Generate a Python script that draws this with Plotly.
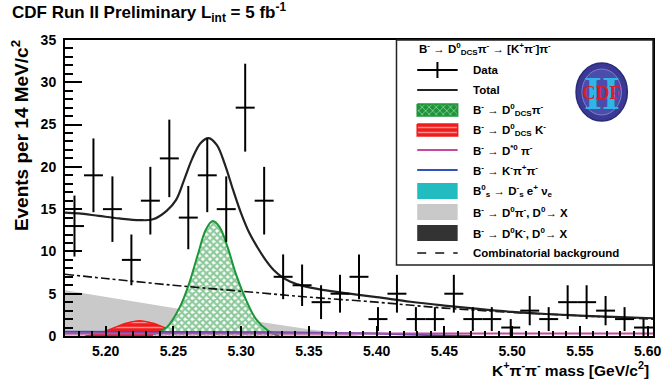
import numpy as np
import plotly.graph_objects as go

# ---------------- data ----------------
bin_centers = [5.177, 5.191, 5.205, 5.219, 5.233, 5.247, 5.261, 5.275, 5.289, 5.303,
               5.317, 5.331, 5.345, 5.359, 5.373, 5.387, 5.401, 5.415, 5.429, 5.443,
               5.457, 5.471, 5.485, 5.499, 5.513, 5.527, 5.541, 5.555, 5.569, 5.583, 5.597]
counts = [13, 19, 15, 9, 16, 21, 14, 19, 15, 27, 16, 7, 6, 4, 5, 7, 2, 5, 2, 2,
          5, 2, 2, 1, 3, 2, 4, 4, 3, 2, 1]
half_bin = 0.007

total_x = [5.170, 5.180, 5.195, 5.210, 5.225, 5.235, 5.245, 5.252, 5.258, 5.264, 5.270,
           5.276, 5.282, 5.288, 5.294, 5.300, 5.306, 5.312, 5.318, 5.324, 5.330, 5.336,
           5.345, 5.360, 5.380, 5.400, 5.425, 5.450, 5.475, 5.500, 5.525, 5.550, 5.575, 5.604]
total_y = [14.6, 14.5, 14.2, 13.9, 13.7, 13.8, 14.8, 16.1, 18.5, 21.0, 22.8,
           23.4, 22.6, 20.3, 17.3, 14.5, 12.2, 10.5, 9.0, 7.8, 7.0, 6.45,
           5.95, 5.45, 5.0, 4.6, 4.05, 3.6, 3.2, 2.85, 2.6, 2.4, 2.25, 2.1]

comb_x = [5.170, 5.200, 5.250, 5.300, 5.350, 5.400, 5.450, 5.500, 5.550, 5.604]
comb_y = [7.3, 6.8, 6.0, 5.3, 4.6, 4.0, 3.3, 2.8, 2.4, 2.0]

gray_x = [5.170, 5.200, 5.250, 5.300, 5.350, 5.390]
gray_y = [5.4, 4.6, 3.3, 2.0, 0.8, 0.0]

red_x = [5.185, 5.195, 5.205, 5.215, 5.225, 5.235, 5.245, 5.255, 5.265]
red_y = [0.0, 0.3, 0.9, 1.5, 1.8, 1.5, 0.9, 0.3, 0.0]

green_x = [5.235, 5.245, 5.255, 5.262, 5.268, 5.274, 5.279, 5.284, 5.290, 5.296,
           5.303, 5.311, 5.320, 5.328]
green_y = [0.2, 1.0, 3.5, 6.4, 9.6, 12.6, 13.6, 12.9, 10.5, 7.4, 4.5, 2.0, 0.6, 0.0]

pink_x = [5.170, 5.300, 5.450, 5.604]
pink_y = [0.3, 0.3, 0.3, 0.3]

blue_x = [5.170, 5.300, 5.400, 5.440, 5.470]
blue_y = [0.5, 0.45, 0.3, 0.1, 0.0]

x_ticks = [5.20, 5.25, 5.30, 5.35, 5.40, 5.45, 5.50, 5.55, 5.60]
x_tick_text = ["5.20", "5.25", "5.30", "5.35", "5.40", "5.45", "5.50", "5.55", "5.60"]
y_ticks = [0, 5, 10, 15, 20, 25, 30, 35]

legend_labels = [
    "Data",
    "Total",
    "B<sup>-</sup> → D<sup>0</sup><sub>DCS</sub>π<sup>-</sup>",
    "B<sup>-</sup> → D<sup>0</sup><sub>DCS</sub> K<sup>-</sup>",
    "B<sup>-</sup> → D<sup>*0</sup> π<sup>-</sup>",
    "B<sup>-</sup> → K<sup>-</sup>π<sup>+</sup>π<sup>-</sup>",
    "B<sup>0</sup><sub>s</sub> → D<sup>-</sup><sub>s</sub> e<sup>+</sup> ν<sub>e</sub>",
    "B<sup>-</sup> → D<sup>0</sup>π<sup>-</sup>, D<sup>0</sup>→ X",
    "B<sup>-</sup> → D<sup>0</sup>K<sup>-</sup>, D<sup>0</sup>→ X",
    "Combinatorial background",
]
legend_header = "B<sup>-</sup> → D<sup>0</sup><sub>DCS</sub>π<sup>-</sup> → [K<sup>+</sup>π<sup>-</sup>]π<sup>-</sup>"

# ---------------- styles ----------------
FONT = "Liberation Sans, Arial, sans-serif"
GREEN = "#1c9638"
RED = "#f01c1c"
PINK = "#c8489e"
BLUE = "#3250c0"
CYAN = "#22bcc0"
GRAY = "#c9c9c9"
DARK = "#333333"

# plot frame in pixels
PL, PR, PT, PB = 65, 661, 40, 336
W, H = 671, 384


def px(X):
    return (X - PL) / (PR - PL)


def py(Y):
    return (PB - Y) / (PB - PT)


fig = go.Figure()

# gray partially reconstructed background
fig.add_trace(go.Scatter(x=gray_x, y=gray_y, mode="lines", fill="tozeroy",
                         fillcolor=GRAY, line=dict(width=0, color=GRAY),
                         hoverinfo="skip"))
# red DCS K
fig.add_trace(go.Scatter(x=red_x, y=red_y, mode="lines", fill="tozeroy", line_shape="spline",
                         line=dict(width=1.5, color=RED),
                         fillpattern=dict(shape="-", bgcolor=RED, fgcolor="white",
                                          size=5, solidity=0.3),
                         hoverinfo="skip"))
# green signal
fig.add_trace(go.Scatter(x=green_x, y=green_y, mode="lines", fill="tozeroy", line_shape="spline",
                         line=dict(width=2, color=GREEN),
                         fillpattern=dict(shape="x", bgcolor="white", fgcolor=GREEN,
                                          size=5, solidity=0.7),
                         hoverinfo="skip"))
# blue and pink lines
fig.add_trace(go.Scatter(x=blue_x, y=blue_y, mode="lines", line_shape="spline",
                         line=dict(width=2, color=BLUE), hoverinfo="skip"))
fig.add_trace(go.Scatter(x=pink_x, y=pink_y, mode="lines",
                         line=dict(width=2, color=PINK), hoverinfo="skip"))
# combinatorial background
fig.add_trace(go.Scatter(x=comb_x, y=comb_y, mode="lines", line_shape="spline",
                         line=dict(width=1.6, color="#111111", dash="dashdot"),
                         hoverinfo="skip"))
# total fit
fig.add_trace(go.Scatter(x=total_x, y=total_y, mode="lines", line_shape="spline",
                         line=dict(width=2.2, color="#222222"), hoverinfo="skip"))
# data
fig.add_trace(go.Scatter(x=bin_centers, y=counts, mode="markers",
                         marker=dict(size=1, color="rgba(0,0,0,0)"),
                         error_y=dict(type="data", array=list(np.sqrt(counts)),
                                      thickness=2, width=0, color="black"),
                         error_x=dict(type="constant", value=half_bin,
                                      thickness=2, width=0, color="black")))

# ---------------- legend (drawn on a pixel overlay axis) ----------------
row_y = [70, 90, 110, 130, 150, 170, 191, 212, 233, 253]
SX0, SX1 = 422, 463
TX = 477
box_h = 8

# data swatch
fig.add_trace(go.Scatter(x=[SX0, SX1, None, (SX0 + SX1) / 2, (SX0 + SX1) / 2],
                         y=[row_y[0], row_y[0], None, row_y[0] - 8, row_y[0] + 8],
                         mode="lines", line=dict(color="black", width=2),
                         xaxis="x2", yaxis="y2", hoverinfo="skip"))
# total swatch
fig.add_trace(go.Scatter(x=[SX0, SX1], y=[row_y[1], row_y[1]], mode="lines",
                         line=dict(color="#222222", width=2.2),
                         xaxis="x2", yaxis="y2", hoverinfo="skip"))


def box(yc, h, **kw):
    return go.Scatter(x=[SX0, SX1, SX1, SX0, SX0],
                      y=[yc - h, yc - h, yc + h, yc + h, yc - h],
                      mode="lines", fill="toself", xaxis="x2", yaxis="y2",
                      hoverinfo="skip", **kw)


fig.add_trace(box(row_y[2], 6, line=dict(color=GREEN, width=1.5),
                  fillcolor=GREEN,
                  fillpattern=dict(shape="x", bgcolor=GREEN, fgcolor="white",
                                   size=5, solidity=0.3)))
fig.add_trace(box(row_y[3], 6, line=dict(color=RED, width=1.5),
                  fillcolor=RED,
                  fillpattern=dict(shape="-", bgcolor=RED, fgcolor="white",
                                   size=5, solidity=0.3)))
fig.add_trace(go.Scatter(x=[SX0, SX1], y=[row_y[4], row_y[4]], mode="lines",
                         line=dict(color=PINK, width=2), xaxis="x2", yaxis="y2",
                         hoverinfo="skip"))
fig.add_trace(go.Scatter(x=[SX0, SX1], y=[row_y[5], row_y[5]], mode="lines",
                         line=dict(color=BLUE, width=2), xaxis="x2", yaxis="y2",
                         hoverinfo="skip"))
fig.add_trace(box(row_y[6], box_h, line=dict(color=CYAN, width=0), fillcolor=CYAN))
fig.add_trace(box(row_y[7], box_h, line=dict(color=GRAY, width=0), fillcolor=GRAY))
fig.add_trace(box(row_y[8], box_h, line=dict(color=DARK, width=0), fillcolor=DARK))
fig.add_trace(go.Scatter(x=[SX0, SX1], y=[row_y[9], row_y[9]], mode="lines",
                         line=dict(color="#111111", width=1.6, dash="dash"),
                         xaxis="x2", yaxis="y2", hoverinfo="skip"))

annotations = []
lfont = dict(family=FONT, size=11.5, color="black", weight="bold")
annotations.append(dict(x=px(SX0), y=py(49), xref="paper", yref="paper",
                        text=legend_header, showarrow=False, xanchor="left",
                        yanchor="middle", font=lfont))
for lab, yy in zip(legend_labels, row_y):
    annotations.append(dict(x=px(TX), y=py(yy), xref="paper", yref="paper",
                            text=lab, showarrow=False, xanchor="left",
                            yanchor="middle", font=lfont))

# title and axis titles
annotations.append(dict(x=px(9), y=py(13), xref="paper", yref="paper",
                        text="CDF Run II Preliminary L<sub>int</sub> = 5 fb<sup>-1</sup>",
                        showarrow=False, xanchor="left", yanchor="middle",
                        font=dict(family=FONT, size=17, color="black", weight="bold")))
annotations.append(dict(x=px(19), y=py(38), xref="paper", yref="paper",
                        text="Events per 14 MeV/c<sup>2</sup>", textangle=-90,
                        showarrow=False, xanchor="center", yanchor="top",
                        font=dict(family=FONT, size=19, color="black", weight="bold")))
annotations.append(dict(x=px(659), y=py(369), xref="paper", yref="paper",
                        text="K<sup>+</sup>π<sup>-</sup>π<sup>-</sup> mass [GeV/c<sup>2</sup>]",
                        showarrow=False, xanchor="right", yanchor="middle",
                        font=dict(family=FONT, size=15.5, color="black", weight="bold")))

# CDF logo
LCX, LCY, LRX, LRY = 609, 92, 26, 29
shapes = [
    dict(type="rect", xref="paper", yref="paper", x0=px(401), x1=px(PR), y0=py(265), y1=py(PT),
         line=dict(color="#222222", width=1.5), layer="above"),
    dict(type="circle", xref="paper", yref="paper",
         x0=px(LCX - LRX), x1=px(LCX + LRX), y0=py(LCY + LRY), y1=py(LCY - LRY),
         fillcolor="#3a3a96", line=dict(color="#2a2a78", width=1.5), layer="above"),
    dict(type="circle", xref="paper", yref="paper",
         x0=px(LCX - LRX + 6), x1=px(LCX + LRX - 6), y0=py(LCY + LRY - 6), y1=py(LCY - LRY + 6),
         fillcolor="#4c4cac", line=dict(color="#8080c8", width=1), layer="above"),
]
annotations.append(dict(x=px(LCX), y=py(LCY + 1), xref="paper", yref="paper", text="<b>II</b>",
                        showarrow=False, xanchor="center", yanchor="middle",
                        font=dict(family="Liberation Serif, serif", size=46, color="#2fb6e6")))
annotations.append(dict(x=px(LCX), y=py(LCY), xref="paper", yref="paper", text="<b>CDF</b>",
                        showarrow=False, xanchor="center", yanchor="middle",
                        font=dict(family="Liberation Serif, serif", size=19, color="#d8202a")))

tickfont = dict(family=FONT, size=14, color="black", weight="bold")
fig.update_layout(
    width=W, height=H,
    margin=dict(l=PL, r=W - PR, t=PT, b=H - PB, pad=0),
    paper_bgcolor="white", plot_bgcolor="white",
    showlegend=False,
    xaxis=dict(range=[5.17, 5.604], tickvals=x_ticks, ticktext=x_tick_text,
               ticks="inside", ticklen=10, tickwidth=1.5, tickcolor="black",
               minor=dict(ticks="inside", dtick=0.01, tick0=5.2, ticklen=5,
                          tickwidth=1.5, tickcolor="black"),
               showline=True, linecolor="black", linewidth=2, mirror=True,
               showgrid=False, zeroline=False, tickfont=tickfont, ticklabelstandoff=1),
    yaxis=dict(range=[0, 35], tickvals=y_ticks, ticks="inside", ticklen=17,
               tickwidth=1.5, tickcolor="black",
               minor=dict(ticks="inside", dtick=1, ticklen=8, tickwidth=1.5,
                          tickcolor="black"),
               showline=True, linecolor="black", linewidth=2, mirror=True,
               showgrid=False, zeroline=False, tickfont=tickfont, ticklabelstandoff=4),
    xaxis2=dict(overlaying="x", range=[PL, PR], visible=False),
    yaxis2=dict(overlaying="y", range=[PB, PT], visible=False),
    shapes=shapes,
    annotations=annotations,
)

fig.write_html("out.html")
